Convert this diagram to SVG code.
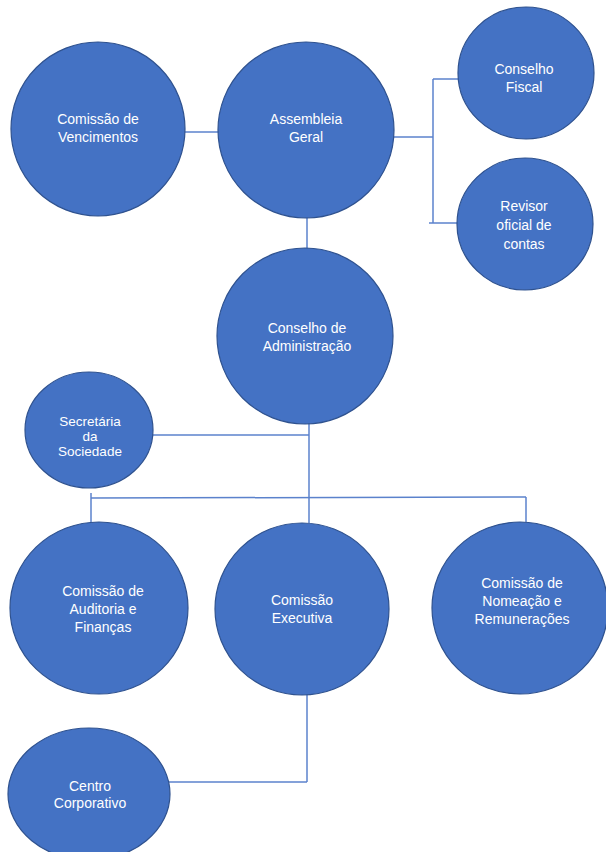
<svg xmlns="http://www.w3.org/2000/svg" width="606" height="852" viewBox="0 0 606 852">
<style>
.n{fill:#4472C4;stroke:#2F528F;stroke-width:1.2}
.t{fill:#fff;font-family:"Liberation Sans",Arial,sans-serif;font-size:14px;text-anchor:middle}
.s{font-size:13.5px}
.c{stroke:#5B82CC;stroke-width:1.5;fill:none}
</style>
<rect width="606" height="852" fill="#fff"/>
<g id="connectors">
<line class="c" x1="185" y1="132" x2="219" y2="132"/>
<line class="c" x1="393" y1="137" x2="433" y2="137"/>
<line class="c" x1="433" y1="79" x2="433" y2="223"/>
<line class="c" x1="433" y1="79" x2="460" y2="79"/>
<line class="c" x1="429" y1="223" x2="460" y2="223"/>
<line class="c" x1="307" y1="217" x2="307" y2="249"/>
<line class="c" x1="309" y1="423" x2="309" y2="523"/>
<line class="c" x1="152" y1="435" x2="309" y2="435"/>
<line class="c" x1="91" y1="498" x2="526" y2="497"/>
<line class="c" x1="91" y1="493" x2="91" y2="522"/>
<line class="c" x1="526" y1="497" x2="526" y2="522"/>
<line class="c" x1="307" y1="694" x2="307" y2="782"/>
<line class="c" x1="169" y1="782" x2="307" y2="782"/>
</g>
<g id="comissao-vencimentos">
<ellipse class="n" cx="98" cy="129" rx="87" ry="87"/>
<text class="t" x="98" y="124">Comissão de</text>
<text class="t" x="98" y="142">Vencimentos</text>
</g>
<g id="assembleia-geral">
<ellipse class="n" cx="306" cy="130" rx="88" ry="88"/>
<text class="t" x="306" y="124">Assembleia</text>
<text class="t" x="306" y="142">Geral</text>
</g>
<g id="conselho-fiscal">
<ellipse class="n" cx="526" cy="73" rx="68" ry="66"/>
<text class="t" x="524" y="74">Conselho</text>
<text class="t" x="524" y="92">Fiscal</text>
</g>
<g id="revisor">
<ellipse class="n" cx="525" cy="224" rx="68" ry="66"/>
<text class="t" x="524" y="211">Revisor</text>
<text class="t" x="524" y="230">oficial de</text>
<text class="t" x="524" y="249">contas</text>
</g>
<g id="conselho-administracao">
<ellipse class="n" cx="305" cy="336" rx="88" ry="88"/>
<text class="t" x="307" y="333">Conselho de</text>
<text class="t" x="307" y="351">Administração</text>
</g>
<g id="secretaria">
<ellipse class="n" cx="89" cy="430" rx="64" ry="58"/>
<text class="t s" x="90" y="426">Secretária</text>
<text class="t s" x="90" y="441">da</text>
<text class="t s" x="90" y="456">Sociedade</text>
</g>
<g id="comissao-auditoria">
<ellipse class="n" cx="99" cy="608" rx="89" ry="86"/>
<text class="t" x="103" y="596">Comissão de</text>
<text class="t" x="103" y="614">Auditoria e</text>
<text class="t" x="103" y="632">Finanças</text>
</g>
<g id="comissao-executiva">
<ellipse class="n" cx="302" cy="609" rx="87" ry="86"/>
<text class="t" x="302" y="605">Comissão</text>
<text class="t" x="302" y="623">Executiva</text>
</g>
<g id="comissao-nomeacao">
<ellipse class="n" cx="520" cy="608" rx="88" ry="86"/>
<text class="t" x="522" y="588">Comissão de</text>
<text class="t" x="522" y="606">Nomeação e</text>
<text class="t" x="522" y="624">Remunerações</text>
</g>
<g id="centro-corporativo">
<ellipse class="n" cx="89" cy="794" rx="81" ry="66"/>
<text class="t" x="90" y="791">Centro</text>
<text class="t" x="90" y="808">Corporativo</text>
</g>
</svg>
